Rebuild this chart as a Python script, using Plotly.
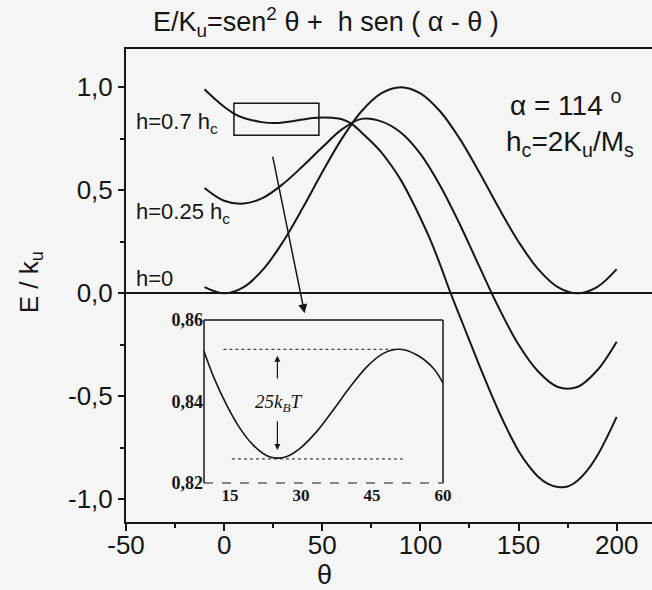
import plotly.graph_objects as go

# ---- data -------------------------------------------------------------
# reduced energy E/Ku versus theta (degrees) for three applied fields
theta_coarse = [-10, 0, 10, 20, 30, 40, 50, 60, 70, 80, 90, 100, 110,
                120, 130, 140, 150, 160, 170, 180, 190, 200]
energy_h0 = [0.03, 0.0, 0.03, 0.117, 0.25, 0.413, 0.587, 0.75, 0.883, 0.97,
             1.0, 0.97, 0.883, 0.75, 0.587, 0.413, 0.25, 0.117, 0.03, 0.0,
             0.03, 0.117]
energy_h025 = [0.511, 0.449, 0.435, 0.464, 0.53, 0.616, 0.708, 0.795, 0.846,
               0.834, 0.78, 0.676, 0.523, 0.336, 0.13, -0.072, -0.249,
               -0.38, -0.455, -0.455, -0.375, -0.235]

theta_fine = [-10, -5, 0, 5, 10, 15, 20, 25, 30, 35, 40, 45, 50, 55, 60, 65,
              70, 75, 80, 85, 90, 95, 100, 105, 110, 115, 120, 125, 130, 135,
              140, 145, 150, 155, 160, 165, 170, 175, 180, 185, 190, 195, 200]
energy_h07 = [0.99, 0.945, 0.905, 0.872, 0.85, 0.838, 0.829, 0.826, 0.8285,
              0.835, 0.843, 0.85, 0.8528, 0.851, 0.8445, 0.822, 0.78, 0.735,
              0.685, 0.622, 0.55, 0.462, 0.365, 0.26, 0.14, 0.01, -0.11,
              -0.23, -0.35, -0.465, -0.575, -0.675, -0.765, -0.835, -0.89,
              -0.925, -0.94, -0.938, -0.91, -0.86, -0.79, -0.70, -0.60]

# zoomed view of the shallow minimum for h = 0.7 hc
inset_theta = [9.4, 11.5, 14.3, 17.1, 19.9, 22.8, 24.9, 27.0, 29.8, 33.3,
               36.8, 40.4, 43.9, 47.4, 50.9, 54.5, 58.0, 60.0]
inset_energy = [0.8526, 0.8461, 0.8391, 0.8334, 0.8293, 0.8267, 0.8261,
                0.8265, 0.8285, 0.8326, 0.8379, 0.8436, 0.8485, 0.8518,
                0.8528, 0.8514, 0.8481, 0.8445]
barrier_top = 0.8528
barrier_bottom = 0.8259

main_xticks = [-50, 0, 50, 100, 150, 200]
main_xtext = ["-50", "0", "50", "100", "150", "200"]
main_yticks = [-1.0, -0.5, 0.0, 0.5, 1.0]
main_ytext = ["-1,0", "-0,5", "0,0", "0,5", "1,0"]
inset_xticks = [15, 30, 45, 60]
inset_yticks = [0.82, 0.84, 0.86]
inset_ytext = ["0,82", "0,84", "0,86"]

# ---- styling ------------------------------------------------------------
INK = "#161616"
BG = "#f4f5f4"
SANS = "Liberation Sans, Arial, sans-serif"
SERIF = "Liberation Serif, Times New Roman, serif"
NB = "\u00a0"

fig = go.Figure()

curve = dict(color=INK, width=2, shape="spline", smoothing=1.0)
for xs, ys in [(theta_coarse, energy_h0), (theta_coarse, energy_h025),
               (theta_fine, energy_h07)]:
    fig.add_trace(go.Scatter(x=xs, y=ys, mode="lines", line=curve,
                             hoverinfo="skip", showlegend=False,
                             xaxis="x", yaxis="y"))

fig.add_trace(go.Scatter(x=inset_theta, y=inset_energy, mode="lines",
                         line=dict(color=INK, width=1.6, shape="spline"),
                         showlegend=False, xaxis="x2", yaxis="y2"))
# barrier reference levels
fig.add_trace(go.Scatter(x=[13.6, 50.2], y=[barrier_top, barrier_top],
                         mode="lines", line=dict(color=INK, width=1, dash="dot"),
                         showlegend=False, xaxis="x2", yaxis="y2"))
fig.add_trace(go.Scatter(x=[15.4, 51.6], y=[barrier_bottom, barrier_bottom],
                         mode="lines", line=dict(color=INK, width=1, dash="dot"),
                         showlegend=False, xaxis="x2", yaxis="y2"))

# inset domain (paper fractions of the plotting area)
INSET_X = [0.1483, 0.6027]
INSET_Y = [0.0825, 0.4271]

shapes = [
    # zoom window on the h=0.7 hc curve
    dict(type="rect", xref="x", yref="y", x0=5, x1=48.3, y0=0.767, y1=0.922,
         line=dict(color=INK, width=1.5)),
    # inset frame
    dict(type="line", xref="x2 domain", yref="y2 domain", x0=0, x1=0, y0=0,
         y1=1, line=dict(color=INK, width=1.5)),
    dict(type="line", xref="x2 domain", yref="y2 domain", x0=1, x1=1, y0=0,
         y1=1, line=dict(color=INK, width=1.5)),
    dict(type="line", xref="x2 domain", yref="y2 domain", x0=0, x1=1, y0=1,
         y1=1, line=dict(color=INK, width=1.5)),
    dict(type="line", xref="x2 domain", yref="y2 domain", x0=0, x1=1, y0=0,
         y1=0, line=dict(color=INK, width=1.2, dash="dash")),
]

annotations = [
    dict(text="E/K<sub>u</sub>=sen<sup>2</sup> \u03b8 +" + NB + " h sen ( \u03b1 - \u03b8 )",
         xref="paper", yref="paper", x=0.38, y=1.057, xanchor="center",
         yanchor="middle", showarrow=False,
         font=dict(family=SANS, size=27, color=INK)),
    dict(text="E / k<sub>u</sub>", xref="paper", yref="paper", x=-0.1825,
         y=0.507, xanchor="center", yanchor="middle", textangle=-90,
         showarrow=False, font=dict(family=SANS, size=26, color=INK)),
    dict(text="\u03b8", xref="paper", yref="paper", x=0.378, y=-0.113,
         xanchor="center", yanchor="middle",
         showarrow=False, font=dict(family=SANS, size=27, color=INK)),
    dict(text="h=0.7 h<sub>c</sub>", x=-45.7, y=0.825, xanchor="left",
         yanchor="middle", showarrow=False,
         font=dict(family=SANS, size=22, color=INK)),
    dict(text="h=0.25 h<sub>c</sub>", x=-45.7, y=0.388, xanchor="left",
         yanchor="middle", showarrow=False,
         font=dict(family=SANS, size=22, color=INK)),
    dict(text="h=0", x=-45.7, y=0.073, xanchor="left", yanchor="middle",
         showarrow=False, font=dict(family=SANS, size=22, color=INK)),
    dict(text="\u03b1" + NB + "=" + NB + "114" + NB + "<sup>o</sup>", x=144.5,
         y=0.922, xanchor="left", yanchor="middle",
         showarrow=False, font=dict(family=SANS, size=28, color=INK)),
    dict(text="h<sub>c</sub>=2K<sub>u</sub>/M<sub>s</sub>", x=142.5, y=0.728,
         xanchor="left", yanchor="middle", showarrow=False,
         font=dict(family=SANS, size=28, color=INK)),
    # pointer from the zoom window to the inset
    dict(x=41, y=-0.097, ax=24.6, ay=0.67, xref="x", yref="y", axref="x",
         ayref="y", text="", showarrow=True, arrowhead=2, arrowsize=1.2,
         arrowwidth=1.5, arrowcolor=INK),
    # barrier height label and arrows in the inset
    dict(text="<i>25k<sub>B</sub>T</i>", x=25.3, y=0.8396, xref="x2", yref="y2",
         showarrow=False, font=dict(family=SERIF, size=19, color=INK)),
    dict(x=25.0, y=0.8512, ax=25.0, ay=0.8453, xref="x2", yref="y2",
         axref="x2", ayref="y2", text="", showarrow=True, arrowhead=2,
         arrowsize=1, arrowwidth=1.2, arrowcolor=INK),
    dict(x=25.0, y=0.8281, ax=25.0, ay=0.8355, xref="x2", yref="y2",
         axref="x2", ayref="y2", text="", showarrow=True, arrowhead=2,
         arrowsize=1, arrowwidth=1.2, arrowcolor=INK),
]

fig.update_layout(
    width=652, height=590,
    margin=dict(l=126, r=0, t=49, b=68, autoexpand=False),
    paper_bgcolor=BG, plot_bgcolor=BG,
    showlegend=False,
    shapes=shapes, annotations=annotations,
    xaxis=dict(range=[-50, 218], tickvals=main_xticks, ticktext=main_xtext,
               ticks="outside", ticklen=7, tickwidth=2, tickcolor=INK,
               ticklabelstandoff=-8,
               showline=True, linewidth=2, linecolor=INK, mirror=True,
               showgrid=False, zeroline=False, automargin=False,
               tickfont=dict(family=SANS, size=26, color=INK),
               minor=dict(ticks="outside", dtick=25, tick0=-50, ticklen=4,
                          tickwidth=2, tickcolor=INK, showgrid=False),
               anchor="y"),
    yaxis=dict(range=[-1.11, 1.185], tickvals=main_yticks, ticktext=main_ytext,
               ticks="outside", ticklen=6, tickwidth=2, tickcolor=INK,
               showline=True, linewidth=2, linecolor=INK, showgrid=False,
               zeroline=True, zerolinecolor=INK, zerolinewidth=2,
               automargin=False,
               tickfont=dict(family=SANS, size=26, color=INK),
               minor=dict(ticks="outside", dtick=0.25, tick0=0, ticklen=4,
                          tickwidth=2, tickcolor=INK, showgrid=False),
               anchor="x"),
    xaxis2=dict(domain=INSET_X, range=[9.5, 60], tickvals=inset_xticks,
                anchor="y2", showline=False, showgrid=False, zeroline=False,
                ticks="", automargin=False,
                tickfont=dict(family=SERIF, size=17, color=INK,
                              weight="bold")),
    yaxis2=dict(domain=INSET_Y, range=[0.82, 0.86], tickvals=inset_yticks,
                ticktext=inset_ytext, anchor="x2", showline=False,
                showgrid=False, zeroline=False, ticks="", automargin=False,
                tickfont=dict(family=SERIF, size=18, color=INK,
                              weight="bold")),
)

fig.write_html("out.html")
